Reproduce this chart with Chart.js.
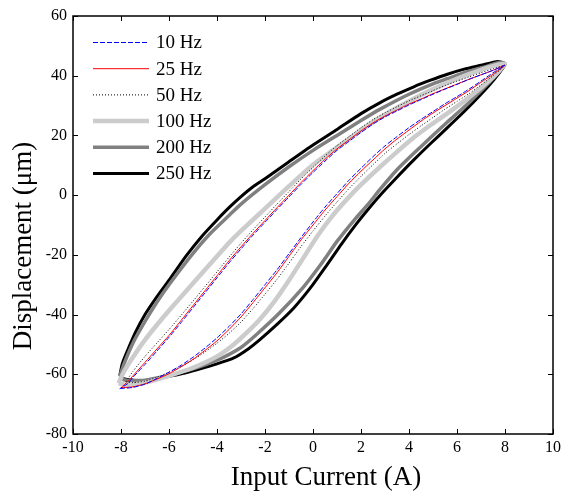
<!DOCTYPE html>
<html>
<head>
<meta charset="utf-8">
<script src="https://cdn.jsdelivr.net/npm/chart.js@4/dist/chart.umd.min.js"></script>
<style>
html,body{margin:0;padding:0;background:#fff;}
#wrap{width:568px;height:495px;position:relative;}
</style>
</head>
<body>
<div id="wrap"><canvas id="c" width="568" height="495"></canvas></div>
<script>
// ---- data (x: input current A, y: displacement um), each loop: lower branch then upper branch
const seriesLabels = ['10 Hz', '25 Hz', '50 Hz', '100 Hz', '200 Hz', '250 Hz'];
const xTicks = [-10, -8, -6, -4, -2, 0, 2, 4, 6, 8, 10];
const yTicks = [-80, -60, -40, -20, 0, 20, 40, 60];
const xTitle = 'Input Current (A)';
const yTitle = 'Displacement (μm)';

const loop10Hz = [
  [-8.05,-64.8],[-7.5,-64.4],[-7,-63.3],[-6.5,-61.4],[-6,-59.3],[-5.5,-57],[-5,-54.3],[-4.5,-51.2],[-4,-47.8],[-3.5,-44],[-3,-39.8],[-2.5,-35],[-2,-30],[-1.5,-25],[-1,-19.6],[-0.5,-14.2],[0,-9],[0.5,-4],[1,0.5],[1.5,5],[2,9],[2.5,12.9],[3,16.5],[3.5,19.6],[4,22.6],[4.5,25.4],[5,28],[5.5,30.6],[6,33],[6.5,35.5],[7,38.2],[7.5,41],[8,43.5],
  [7.5,41.8],[7,40.3],[6.5,38.8],[6,37.1],[5.5,35.5],[5,33.8],[4.5,32],[4,30.2],[3.5,28.2],[3,26.2],[2.5,23.8],[2,21],[1.5,18],[1,15],[0.5,11.4],[0,7.6],[-0.5,3.6],[-1,-0.6],[-1.5,-4.8],[-2,-9.1],[-2.5,-13.4],[-3,-18],[-3.5,-22.7],[-4,-27.7],[-4.5,-32.7],[-5,-37.7],[-5.5,-42.7],[-6,-47.6],[-6.5,-52.2],[-7,-56.7],[-7.5,-61],[-7.7,-63],[-8.05,-64.8]
];
const loop25Hz = [
  [-8,-64.5],[-7.5,-64.2],[-7,-63.2],[-6.5,-61.6],[-6,-59.8],[-5.5,-57.5],[-5,-55],[-4.5,-52],[-4,-48.8],[-3.5,-45],[-3,-40.8],[-2.5,-36],[-2,-31],[-1.5,-26],[-1,-20.5],[-0.5,-15],[0,-10],[0.5,-5],[1,-0.5],[1.5,4],[2,8],[2.5,11.8],[3,15.5],[3.5,18.8],[4,21.8],[4.5,24.8],[5,27.5],[5.5,30],[6,32.5],[6.5,35],[7,37.8],[7.5,40.5],[8,43.5],
  [7.5,41.8],[7,40.3],[6.5,38.8],[6,37.2],[5.5,35.6],[5,34],[4.5,32.2],[4,30.5],[3.5,28.5],[3,26.5],[2.5,24.2],[2,21.5],[1.5,18.5],[1,15.5],[0.5,12],[0,8.2],[-0.5,4.2],[-1,0],[-1.5,-4.2],[-2,-8.5],[-2.5,-12.8],[-3,-17.3],[-3.5,-22],[-4,-27],[-4.5,-32],[-5,-37],[-5.5,-42],[-6,-47],[-6.5,-51.5],[-7,-56],[-7.5,-60.5],[-7.7,-62.3],[-8,-64.5]
];
const loop50Hz = [
  [-7.8,-62.5],[-7.5,-62.8],[-7,-62.3],[-6.5,-61],[-6,-59.3],[-5.5,-57.4],[-5,-55.2],[-4.5,-52.5],[-4,-49.6],[-3.5,-46.3],[-3,-42.5],[-2.5,-38],[-2,-33.2],[-1.5,-28.2],[-1,-22.8],[-0.5,-17.2],[0,-12],[0.5,-7],[1,-2.3],[1.5,2.2],[2,6.3],[2.5,10.2],[3,14],[3.5,17.2],[4,20.3],[4.5,23.2],[5,26],[5.5,28.8],[6,31.4],[6.5,34],[7,36.9],[7.5,40],[8,43.5],
  [7.5,42.3],[7,41],[6.5,39.6],[6,38.2],[5.5,36.7],[5,35],[4.5,33.3],[4,31.6],[3.5,29.6],[3,27.6],[2.5,25.3],[2,22.6],[1.5,19.6],[1,16.6],[0.5,13.1],[0,9.3],[-0.5,5.4],[-1,1.2],[-1.5,-3],[-2,-7.3],[-2.5,-11.6],[-3,-16.1],[-3.5,-20.8],[-4,-25.7],[-4.5,-30.6],[-5,-35.5],[-5.5,-40.3],[-6,-45],[-6.5,-49.5],[-7,-54],[-7.5,-59],[-7.8,-62.5]
];
const loop100Hz = [
  [-8.1,-63],[-7.8,-63.5],[-7,-62.8],[-6,-60.5],[-5,-57.8],[-4,-54],[-3.3,-50],[-2.75,-46],[-2.2,-41.5],[-1.6,-35.5],[-1,-28.5],[-0.4,-21],[0.2,-13.5],[0.8,-7],[1.4,-1.5],[2,3.5],[2.8,9.5],[3.5,14.5],[4.2,19.3],[4.9,23.5],[5.6,27.4],[6.3,31.5],[7,36],[7.5,39.5],[8,44],
  [7.3,42.8],[6.5,40.5],[5.6,37.6],[5,35.5],[4.2,32.3],[3.5,29.3],[2.8,26],[2,21.8],[1,16],[0,10.2],[-1,3],[-2,-4.5],[-3,-12],[-3.5,-16],[-4,-20.5],[-5,-29.5],[-5.6,-35],[-6.3,-41.5],[-7,-48.5],[-7.6,-55.5],[-7.9,-59.5],[-8.1,-63]
];
const loop200Hz = [
  [-8.05,-60.5],[-7.9,-61.8],[-7,-62],[-6,-60.3],[-5,-58.2],[-4,-55.3],[-3,-51],[-2.33,-46.5],[-1.4,-39.5],[-0.4,-30.8],[0.3,-23.5],[1,-15.5],[1.7,-8.5],[2.3,-3],[2.8,2],[3.5,8.5],[4.2,14],[4.9,19.3],[5.6,24.5],[6.3,29.5],[7,35],[7.5,39],[8,44],
  [7.8,44.5],[7.3,43.3],[6.5,41.5],[5.6,39],[5,37.3],[4,33.8],[2.8,28.8],[2,25],[1,20],[0,15],[-1,9.5],[-2,3.5],[-3,-3],[-3.5,-6.8],[-4.3,-13],[-5,-19.5],[-6,-30],[-6.5,-35.8],[-7,-42.3],[-7.5,-49.5],[-7.85,-56],[-8.05,-60.5]
];
const loop250Hz = [
  [-8.05,-60.5],[-7.9,-61.5],[-7.1,-62.2],[-6,-60.7],[-5.3,-59.5],[-4.7,-58.2],[-4,-56.5],[-3.3,-54.5],[-2.7,-51.5],[-2.2,-48.3],[-1.5,-43.3],[-0.8,-37.8],[-0.1,-31],[0.5,-24.3],[1.2,-16.2],[1.8,-9.7],[2.3,-4.7],[2.8,0],[3.5,6],[4.2,11.8],[4.9,17.3],[5.6,22.6],[6.3,28],[7,33.8],[7.5,38.3],[8,43.8],
  [7.7,44.8],[7,43.5],[6.3,42.2],[5.6,40.5],[4.9,38.5],[4.2,36.3],[3.5,33.8],[2.8,31],[2,27.3],[1,22],[0,16.8],[-1,11.2],[-2,5.5],[-2.5,2.8],[-3,-0.5],[-3.5,-4.2],[-4,-8.3],[-4.6,-13.5],[-5.3,-20.5],[-6,-28.5],[-6.5,-34],[-7,-40],[-7.4,-46],[-7.7,-51.5],[-7.95,-56.5],[-8.05,-60.5]
];

const loops = [loop10Hz, loop25Hz, loop50Hz, loop100Hz, loop200Hz, loop250Hz];
const colors = ['#0000ff', '#ff0000', '#000000', '#cccccc', '#808080', '#000000'];
const widths = [1, 1, 1, 4.5, 3.5, 3];
const dashes = [[5, 2], [], [1, 2], [], [], []];

const SERIF = "'Liberation Serif', 'Times New Roman', serif";

const datasets = loops.map((pts, i) => ({
  label: seriesLabels[i],
  data: pts.map(p => ({x: p[0], y: p[1]})),
  showLine: true,
  borderColor: colors[i],
  backgroundColor: colors[i],
  borderWidth: widths[i],
  borderDash: dashes[i],
  pointRadius: 0,
  tension: 0.2,
  fill: false
}));

const frameTicks = {
  id: 'frameTicks',
  afterDatasetsDraw(chart) {
    const {ctx, chartArea: {left, right, top, bottom}, scales: {x, y}} = chart;
    ctx.save();
    ctx.strokeStyle = '#000';
    ctx.lineWidth = 1.5;
    ctx.setLineDash([]);
    ctx.strokeRect(left, top, right - left, bottom - top);
    ctx.lineWidth = 1;
    const L = 5;
    ctx.beginPath();
    x.ticks.forEach(t => {
      const px = Math.round(x.getPixelForValue(t.value)) + 0.5;
      ctx.moveTo(px, bottom); ctx.lineTo(px, bottom - L);
      ctx.moveTo(px, top); ctx.lineTo(px, top + L);
    });
    y.ticks.forEach(t => {
      const py = Math.round(y.getPixelForValue(t.value)) + 0.5;
      ctx.moveTo(left, py); ctx.lineTo(left + L, py);
      ctx.moveTo(right, py); ctx.lineTo(right - L, py);
    });
    ctx.stroke();
    // axis titles
    ctx.fillStyle = '#000';
    ctx.font = '27px ' + SERIF;
    ctx.textAlign = 'center';
    ctx.textBaseline = 'middle';
    ctx.fillText(xTitle, 326, 478);
    ctx.translate(24, 246);
    ctx.rotate(-Math.PI / 2);
    ctx.fillText(yTitle, 0, 0);
    ctx.restore();
  }
};

const innerLegend = {
  id: 'innerLegend',
  afterDraw(chart) {
    const {ctx, chartArea: {left, top}} = chart;
    ctx.save();
    ctx.font = '19px ' + SERIF;
    ctx.textBaseline = 'middle';
    ctx.fillStyle = '#000';
    chart.data.datasets.forEach((ds, i) => {
      const yy = top + 26.5 + i * 26.2;
      ctx.strokeStyle = ds.borderColor;
      ctx.lineWidth = ds.borderWidth;
      ctx.setLineDash(ds.borderDash || []);
      ctx.beginPath();
      ctx.moveTo(left + 20, yy);
      ctx.lineTo(left + 76, yy);
      ctx.stroke();
      ctx.setLineDash([]);
      ctx.fillText(ds.label, left + 83, yy + 1);
    });
    ctx.restore();
  }
};

Chart.defaults.font.family = SERIF;
Chart.defaults.color = '#000';

new Chart(document.getElementById('c'), {
  type: 'scatter',
  data: {datasets},
  options: {
    responsive: false,
    animation: false,
    layout: {padding: {left: 0, right: 15, top: 16, bottom: 0}},
    plugins: {legend: {display: false}, tooltip: {enabled: false}},
    scales: {
      x: {
        type: 'linear', min: -10, max: 10,
        afterBuildTicks(scale) { scale.ticks = xTicks.map(v => ({value: v})); },
        afterFit(scale) { scale.height = 61; },
        grid: {display: false, drawTicks: false},
        border: {display: false},
        ticks: {font: {size: 16, family: SERIF}, color: '#000', padding: 4, maxRotation: 0},
        title: {display: false}
      },
      y: {
        type: 'linear', min: -80, max: 60,
        afterBuildTicks(scale) { scale.ticks = yTicks.map(v => ({value: v})); },
        afterFit(scale) { scale.width = 73; },
        grid: {display: false, drawTicks: false},
        border: {display: false},
        ticks: {font: {size: 16, family: SERIF}, color: '#000', padding: 6},
        title: {display: false}
      }
    }
  },
  plugins: [frameTicks, innerLegend]
});
</script>
</body>
</html>
